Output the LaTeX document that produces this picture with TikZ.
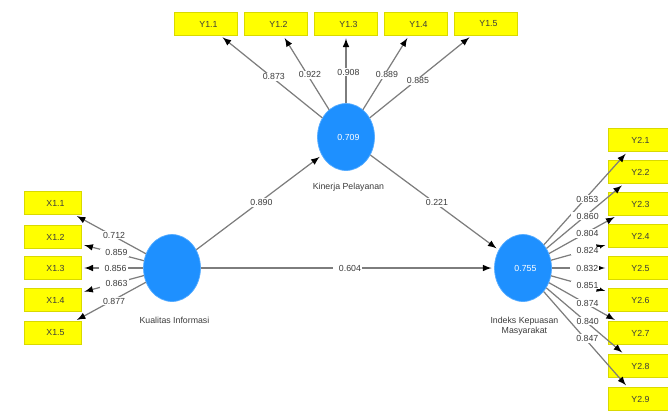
\documentclass[tikz,border=0pt]{standalone}
\usepackage{fontspec}
\setmainfont{Liberation Sans}
\usetikzlibrary{shapes.geometric}
\definecolor{pls_blue}		{RGB}{30,144,255}
\definecolor{pls_yellow}	{RGB}{255,255,0}
\definecolor{line_grey}		{RGB}{125,125,125}
\definecolor{text_grey}		{RGB}{60,60,60}
\newcommand{\tinyfont}		{ \fontsize{5}{6}\selectfont }

\begin{document}
\begin{tikzpicture}[
		x               = 0.02cm,
		y               = -0.02cm,
		latentV/.style  = {draw = pls_blue!75!white,
			ellipse,
			fill           = pls_blue,
			inner sep      = 0pt,
			font           = \tinyfont \color{white},
			line width     = 0.4pt,
			minimum width  = 1.14cm,
			minimum height = 1.34cm},
		indic/.style    = {draw = pls_yellow!85!black,
			rectangle,
			fill           = pls_yellow,
			text centered,
			font           = \tinyfont \color{text_grey},
			line width     = 0.3pt,
			minimum width  = 1.2cm,
			minimum height = 0.46cm},
		val/.style      = {fill = white,
			inner sep      = 0.6pt,
			font           = \tinyfont \color{text_grey}},
		caption/.style  = {align = center,
			font           = \tinyfont \color{text_grey}},
		link/.style     = {draw = line_grey,
			line width     = 0.7pt,
			shorten >      = 1.5pt}]
	
	\useasboundingbox (0,0) rectangle (668,417);
	
	% latent variables
	\node[latentV] (Kin) at (346,137) {0.709};
	\node[latentV] (Kual) at (172,268) {};
	\node[latentV] (Ind) at (523,268) {0.755};
	
	\node[caption] (KinC) at (346,187) {Kinerja Pelayanan};
	\node[caption] (KualC) at (172,320) {Kualitas Informasi};
	\node[caption] (IndC) at (522,326) {Indeks Kepuasan \\ Masyarakat};
	
	% indicators Kinerja Pelayanan
	\node[indic, minimum width = 1.26cm] (Y11) at (206,24) {Y1.1};
	\node[indic, minimum width = 1.26cm] (Y12) at (276,24) {Y1.2};
	\node[indic, minimum width = 1.26cm] (Y13) at (346,24) {Y1.3};
	\node[indic, minimum width = 1.26cm] (Y14) at (416,24) {Y1.4};
	\node[indic, minimum width = 1.26cm] (Y15) at (486,24) {Y1.5};
	
	% indicators Kualitas Informasi
	\node[indic, minimum width = 1.14cm] (X11) at (53,203) {X1.1};
	\node[indic, minimum width = 1.14cm] (X12) at (53,237) {X1.2};
	\node[indic, minimum width = 1.14cm] (X13) at (53,268) {X1.3};
	\node[indic, minimum width = 1.14cm] (X14) at (53,300) {X1.4};
	\node[indic, minimum width = 1.14cm] (X15) at (53,333) {X1.5};
	
	% indicators Indeks Kepuasan Masyarakat
	\node[indic] (Y21) at (638,140) {Y2.1};
	\node[indic] (Y22) at (638,172) {Y2.2};
	\node[indic] (Y23) at (638,204) {Y2.3};
	\node[indic] (Y24) at (638,236) {Y2.4};
	\node[indic] (Y25) at (638,268) {Y2.5};
	\node[indic] (Y26) at (638,300) {Y2.6};
	\node[indic] (Y27) at (638,333) {Y2.7};
	\node[indic] (Y28) at (638,366) {Y2.8};
	\node[indic] (Y29) at (638,399) {Y2.9};
	
	% outer loadings
	\path[link, -latex] (Kin) edge node[val, pos=0.50] {0.873} (Y11);
	\path[link, -latex] (Kin) edge node[val, pos=0.47] {0.922} (Y12);
	\path[link, -latex] (Kin) edge node[val, pos=0.46] {0.908} (Y13);
	\path[link, -latex] (Kin) edge node[val, pos=0.47] {0.889} (Y14);
	\path[link, -latex] (Kin) edge node[val, pos=0.45] {0.885} (Y15);
	
	\path[link, -latex] (Kual) edge node[val, pos=0.48] {0.712} (X11);
	\path[link, -latex] (Kual) edge node[val, pos=0.48] {0.859} (X12);
	\path[link, -latex] (Kual) edge node[val, pos=0.49] {0.856} (X13);
	\path[link, -latex] (Kual) edge node[val, pos=0.48] {0.863} (X14);
	\path[link, -latex] (Kual) edge node[val, pos=0.48] {0.877} (X15);
	
	\path[link, -latex] (Ind) edge node[val, pos=0.49] {0.853} (Y21);
	\path[link, -latex] (Ind) edge node[val, pos=0.50] {0.860} (Y22);
	\path[link, -latex] (Ind) edge node[val, pos=0.53] {0.804} (Y23);
	\path[link, -latex] (Ind) edge node[val, pos=0.60] {0.824} (Y24);
	\path[link, -latex] (Ind) edge node[val, pos=0.59] {0.832} (Y25);
	\path[link, -latex] (Ind) edge node[val, pos=0.60] {0.851} (Y26);
	\path[link, -latex] (Ind) edge node[val, pos=0.53] {0.874} (Y27);
	\path[link, -latex] (Ind) edge node[val, pos=0.50] {0.840} (Y28);
	\path[link, -latex] (Ind) edge node[val, pos=0.49] {0.847} (Y29);
	
	% path coefficients
	\path[link, -latex] (Kual) edge node[val] {0.890} (Kin);
	\path[link, -latex] (Kin) edge node[val] {0.221} (Ind);
	\path[link, -latex] (Kual) edge node[val] {0.604} (Ind);
	
\end{tikzpicture}
\end{document}
